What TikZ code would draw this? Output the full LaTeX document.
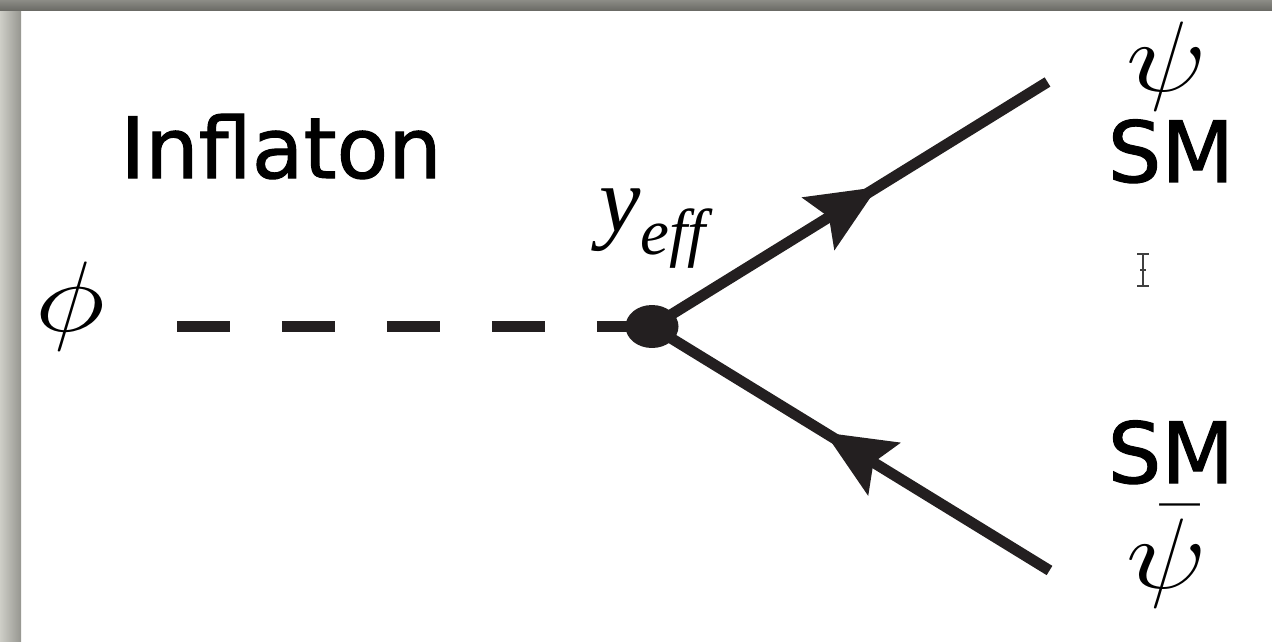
\RequirePackage{fix-cm}
\documentclass[tikz,border=0pt]{standalone}
\usepackage{graphicx}
\usepackage{fontspec}
\usetikzlibrary{arrows.meta,decorations.markings,shapes.geometric}
\newfontfamily\comicfont[FakeBold=1.3]{DejaVu Sans}
\newfontfamily\timesfont{Liberation Serif}
\definecolor{ink}{RGB}{35,31,32}
\definecolor{frameLo}{RGB}{206,206,199}
\definecolor{frameHi}{RGB}{150,150,144}
\definecolor{frameTop}{RGB}{140,140,134}
\definecolor{frameBot}{RGB}{104,104,99}
\newcommand{\wide}[1]{\scalebox{1.2}[1]{#1}}
\tikzset{
  txt/.style={inner sep=0pt, anchor=base, text=black},
  scalar/.style={ink, line width=5.7pt, dash pattern=on 1.06cm off 1.04cm},
  fermion/.style={ink, line width=6.2pt, postaction={decorate},
    decoration={markings, mark=at position #1 with
      {\arrow{Stealth[length=1.4cm,width=1.25cm,inset=0.26cm,line width=0pt]}}}},
  vertex/.style={ellipse, fill=ink, inner sep=0pt, minimum width=1.06cm, minimum height=0.86cm},
}

\begin{document}
\begin{tikzpicture}[x=0.02cm,y=-0.02cm]
\useasboundingbox (0,0) rectangle (1272,642);
% slide frame
\shade[left color=frameLo, right color=frameHi] (0,0) rectangle (21,642);
\shade[top color=frameTop, bottom color=frameBot] (0,0) rectangle (1272,11);

\coordinate (vtx) at (652,326.5);
\coordinate (philine) at (177,326.5);
\coordinate (psiout) at (1047.5,82);
\coordinate (psibarin) at (1049.5,570.5);

\draw[scalar] (philine) -- (vtx);
\draw[fermion=0.57] (vtx) -- (psiout);
\draw[fermion=0.565] (psibarin) -- (vtx);
\node[vertex] (dot) at (vtx) {};

\node[txt, font=\comicfont\fontsize{48}{50}\selectfont] (infl) at (281,178) {Inflaton};
\node[txt, font=\fontsize{57}{60}\selectfont] (phi) at (70,331) {\wide{$\phi$}};
\node[txt, anchor=base west, font=\timesfont\itshape\fontsize{53}{55}\selectfont] (yeff) at (599,232)
  {y\raisebox{-13pt}{\fontsize{37}{39}\selectfont eff}};

\node[txt, font=\fontsize{57}{60}\selectfont] (psi) at (1167,92) {\wide{$\psi$}};
\node[txt, font=\comicfont\fontsize{48}{50}\selectfont] (smtop) at (1171,182) {SM};
\node[txt, font=\comicfont\fontsize{48}{50}\selectfont] (smbot) at (1171,483) {SM};
\node[txt, font=\fontsize{57}{60}\selectfont] (psibar) at (1167,588) {\wide{$\bar\psi$}};

% text cursor
\draw[black!75, line width=0.7pt] (1137,254) -- (1149,254) (1143,254) -- (1143,286)
  (1137,286) -- (1149,286) (1140,270) -- (1146,270);
\end{tikzpicture}
\end{document}
